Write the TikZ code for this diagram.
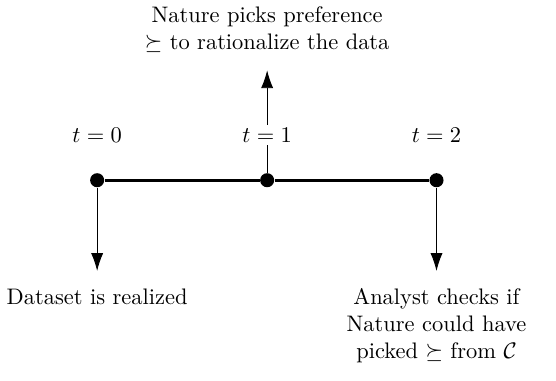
\documentclass[tikz,border=0pt]{standalone}
\usepackage{amsmath,amssymb}
\usetikzlibrary{arrows.meta, positioning}

\begin{document}
\begin{tikzpicture}[
    dot/.style={circle, fill, inner sep=0pt, minimum size=0.22cm},
    lbl/.style={font=\normalsize, align=center, inner sep=1pt},
    >={Latex[length=2.8mm, width=1.9mm]}
  ]
  \useasboundingbox (0,0) rectangle (8.70,5.96);

  \node[dot] (d0) at (1.52, 3.14) {};
  \node[dot] (d1) at (4.18, 3.14) {};
  \node[dot] (d2) at (6.83, 3.14) {};
  \draw[line width=1.5pt] (d0) -- (d1) -- (d2);

  \node[lbl] (t0) at (1.52, 3.85) {$t=0$};
  \node[lbl] (t1) at (4.18, 3.85) {$t=1$};
  \node[lbl] (t2) at (6.83, 3.85) {$t=2$};

  \coordinate (up) at (4.18, 4.86);
  \coordinate (down0) at (1.52, 1.72);
  \coordinate (down2) at (6.83, 1.72);

  \node[lbl] (nature) at (4.18, 5.50) {Nature picks preference\\ $\succeq$ to rationalize the data};
  \node[lbl] (data) at (1.52, 1.32) {Dataset is realized};
  \node[lbl] (check) at (6.83, 0.86) {Analyst checks if\\ Nature could have\\ picked $\succeq$ from $\mathcal{C}$};

  \draw (d1) -- (t1);
  \draw[->] (t1) -- (up);
  \draw[->] (d0) -- (down0);
  \draw[->] (d2) -- (down2);
\end{tikzpicture}
\end{document}
